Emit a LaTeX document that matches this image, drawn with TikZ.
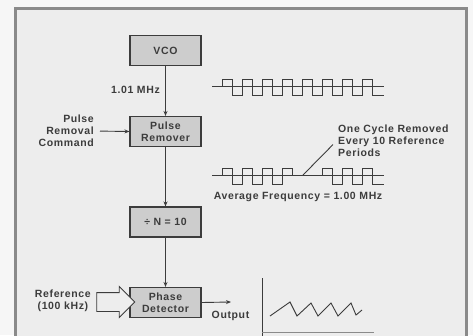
\documentclass[tikz,border=0pt]{standalone}
\usepackage{fontspec}
\setmainfont{Liberation Sans}[LetterSpace=6]
\usetikzlibrary{positioning,shapes.arrows,arrows.meta,calc}

\definecolor{pagegray}{HTML}{F6F6F6}
\definecolor{panelgray}{HTML}{EDEDED}
\definecolor{framegray}{HTML}{8A8A8A}
\definecolor{boxgray}{HTML}{CDCDCD}
\definecolor{inkgray}{HTML}{3C3C3C}

\tikzset{
  block/.style={draw=inkgray, fill=boxgray, line width=1.1pt, minimum width=71pt,
    minimum height=30pt, align=center, inner sep=1pt, text=inkgray,
    font=\fontsize{10.5}{12}\selectfont\bfseries},
  txt/.style={inner sep=0pt, text=inkgray, font=\fontsize{10.5}{12}\selectfont\bfseries},
  wire/.style={draw=inkgray, line width=0.9pt},
  flow/.style={wire, -{Stealth[length=5pt,width=4pt]}},
  wave/.style={draw=inkgray, line width=0.9pt},
  refarrow/.style={single arrow, draw=inkgray, fill=panelgray, line width=0.9pt,
    minimum height=38pt, single arrow head extend=6pt,
    inner xsep=0pt, inner ysep=9pt}
}

\begin{document}
\begin{tikzpicture}[x=1pt, y=-1pt]
  \useasboundingbox (0,0) rectangle (473,335);
  \fill[pagegray] (0,0) rectangle (473,335);
  \draw[framegray, line width=3pt, fill=panelgray] (15.3,8.3) rectangle (466.3,345);

  % the chain of blocks
  \node[block] (vco) at (165.5,50.5) {VCO};
  \node[block] (remover) at (165.5,131.5) {Pulse\\Remover};
  \node[block] (divider) at (165.5,222) {÷ N = 10};
  \node[block] (detector) at (165.5,302.5) {Phase\\Detector};
  \draw[flow] (vco) -- (remover);
  \draw[flow] (remover) -- (divider);
  \draw[flow] (divider) -- (detector);

  % inputs and output
  \node[txt, anchor=east] (freq) at (160,90) {1.01 MHz};
  \node[txt, anchor=east, align=right] (command) at (94,131) {Pulse\\Removal\\Command};
  \draw[flow, shorten <=6pt] (command.east) -- (remover.west);
  \node[refarrow] (refin) at (111,302) {};
  \node[txt, anchor=east, align=center] (reference) at (91,301) {Reference\\(100 kHz)};
  \coordinate (outend) at (231,302);
  \draw[flow] (detector.east) -- (outend);
  \node[txt] (output) at (230.5,316) {Output};

  % waveforms
  \draw[wave] (212,86) -- (384,86);
  \draw[wave] (212,86) -- (222,86) -- (222,79)
    \foreach \k in {1,...,7} { -- ++(10,0) -- ++(0,16) -- ++(10,0) -- ++(0,-16) }
    -- ++(10,0) -- ++(0,16) -- (384,95);
  \draw[wave] (212,175) -- (384,175);
  \draw[wave] (222,175) -- (222,168)
    \foreach \k in {1,...,3} { -- ++(10,0) -- ++(0,16.5) -- ++(10,0) -- ++(0,-16.5) }
    -- ++(10,0) -- ++(0,7) -- (322,175) -- ++(0,-7)
    \foreach \k in {1,2} { -- ++(10,0) -- ++(0,16.5) -- ++(10,0) -- ++(0,-16.5) }
    -- ++(10,0) -- ++(0,16.5) -- (384,184.5);
  \node[txt, anchor=north west, align=left] (note) at (338,125)
    {One Cycle Removed\\Every 10 Reference\\Periods};
  \coordinate (gap) at (303,175);
  \draw[wire] ($(note.west)+(-5,3.5)$) -- (gap);
  \node[txt] (average) at (298,197) {Average Frequency = 1.00 MHz};

  % output trace
  \draw[wire] (262,278) -- (262,340);
  \draw[framegray, line width=0.6pt] (262,332) -- (374,332);
  \draw[wave] (270,316) -- (290,302) -- (297,316) -- (311,303) -- (318,316)
    -- (331,303) -- (338,316) -- (351,303) -- (356,315) -- (362,310);
\end{tikzpicture}
\end{document}
